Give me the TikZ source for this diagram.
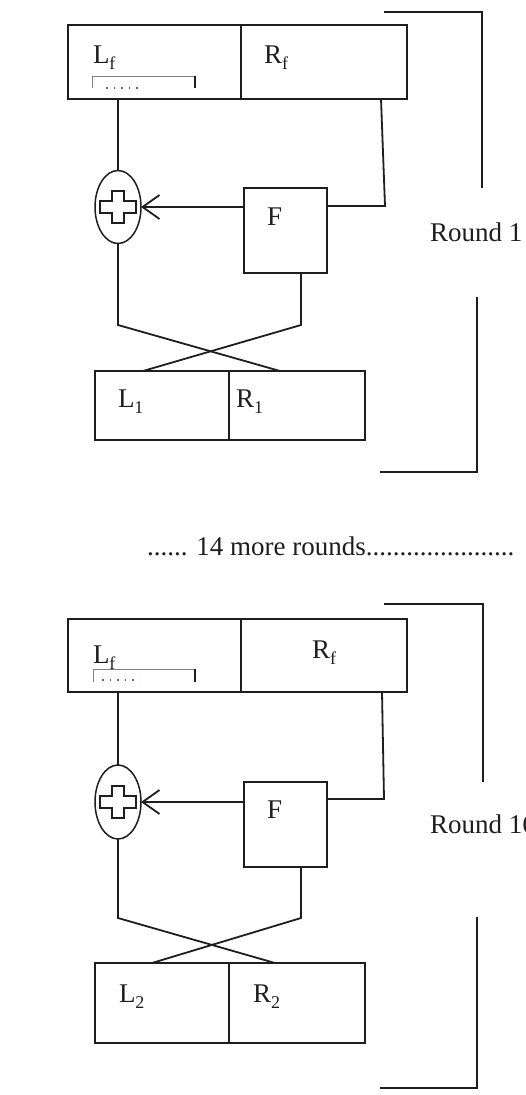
\documentclass[tikz,border=0pt]{standalone}
\usepackage{fontspec}
\setmainfont{Liberation Serif}
\usetikzlibrary{shapes.geometric,arrows.meta,calc}
\definecolor{ink}{HTML}{1E1E1E}
\newcommand\lowsub[1]{\raisebox{-6pt}{\fontsize{18}{18}\selectfont #1}}
\begin{document}
\begin{tikzpicture}[x=1pt,y=-1pt,
  line/.style={line width=1.8pt, draw=ink},
  halfbox/.style={draw=ink, line width=1.8pt, rectangle, inner sep=0pt, outer sep=0pt, anchor=north west},
  lbl/.style={inner sep=0pt, outer sep=0pt, anchor=base west, font=\fontsize{27}{27}\selectfont, text=ink},
  xorell/.style={ellipse, draw=ink, line width=1.5pt, minimum width=46pt, minimum height=73pt, inner sep=0pt, outer sep=0pt},
  thinmark/.style={draw=gray, line width=0.9pt},
  dotmark/.style={draw=gray!80!black, line width=1.6pt, dash pattern=on 1.6pt off 6pt},
  arr/.style={line, -{Straight Barb[length=17pt,width=24pt]}},
  plus/.pic={\draw[ink, line width=1.4pt] (-6,-16) -- (6,-16) -- (6,-6) -- (18,-6) -- (18,6) -- (6,6) -- (6,16) -- (-6,16) -- (-6,6) -- (-18,6) -- (-18,-6) -- (-6,-6) -- cycle;}
]
\fill[white] (0,0) rectangle (525,1095);
\useasboundingbox (0,0) rectangle (525,1095);

% ---------------- Round 1 ----------------
\node[halfbox, minimum width=173pt, minimum height=74pt] (Lf1) at (68,25) {};
\node[halfbox, minimum width=166pt, minimum height=74pt] (Rf1) at (241,25) {};
\node[lbl] (tLf1) at (93,63) {L\lowsub{f}};
\node[lbl] (tRf1) at (264,63) {R\lowsub{f}};
\draw[thinmark] (92,88) -- (92,76) -- (195,76);
\draw[line, line width=1.1pt] (195,76) -- (195,88);
\draw[dotmark] (106,88) -- (140,88);

\node[xorell] (X1) at (118,207) {};
\pic at (X1.center) {plus};
\node[halfbox, minimum width=83pt, minimum height=85pt] (F1) at (244,188) {};
\node[lbl] (tF1) at (267,225) {F};

\draw[line] (X1.north |- Lf1.south) -- (X1.north);
\coordinate (r1) at (385,206);
\draw[line] ($(Rf1.south east)+(-26,0)$) -- (r1) -- (F1.east |- r1);
\draw[arr] (F1.west |- X1.east) -- (X1.east);

\node[halfbox, minimum width=134pt, minimum height=69pt] (L1) at (95,371) {};
\node[halfbox, minimum width=136pt, minimum height=69pt] (R1) at (229,371) {};
\coordinate (a1) at (118,325);
\coordinate (b1) at (301,325);
\draw[line] (X1.south) -- (a1) -- ($(R1.north west)+(51,0)$);
\draw[line] (b1 |- F1.south) -- (b1) -- ($(L1.north west)+(48,0)$);
\node[lbl] (tL1) at (118,407) {L\lowsub{1}};
\node[lbl] (tR1) at (236,407) {R\lowsub{1}};

\coordinate (br1a) at (384,12);
\coordinate (br1b) at (482,12);
\coordinate (br1c) at (482,188);
\draw[line] (br1a) -- (br1b) -- (br1c);
\node[lbl] (rd1) at (430,241) {Round 1};
\coordinate (br1d) at (477,297);
\coordinate (br1e) at (477,472);
\coordinate (br1f) at (380,472);
\draw[line] (br1d) -- (br1e) -- (br1f);

% ---------------- middle ----------------
\node[lbl] (more) at (147,555) {...... 14 more rounds......................};

% ---------------- Round 16 ----------------
\node[halfbox, minimum width=173pt, minimum height=73pt] (Lf2) at (68,619) {};
\node[halfbox, minimum width=166pt, minimum height=73pt] (Rf2) at (241,619) {};
\node[lbl] (tLf2) at (93,663) {L\lowsub{f}};
\node[lbl] (tRf2) at (312,658) {R\lowsub{f}};
\draw[thinmark] (93,682) -- (93,669) -- (195,669);
\draw[line, line width=1.1pt] (195,669) -- (195,682);
\draw[dotmark] (102,680) -- (140,680);

\node[xorell, minimum height=74pt] (X2) at (118,802) {};
\pic at (X2.center) {plus};
\node[halfbox, minimum width=83pt, minimum height=85pt] (F2) at (244,782) {};
\node[lbl] (tF2) at (267,818) {F};

\draw[line] (X2.north |- Lf2.south) -- (X2.north);
\coordinate (r2) at (384,799);
\draw[line] ($(Rf2.south east)+(-25,0)$) -- (r2) -- (F2.east |- r2);
\draw[arr] (F2.west |- X2.east) -- (X2.east);

\node[halfbox, minimum width=134pt, minimum height=80pt] (L2) at (95,963) {};
\node[halfbox, minimum width=136pt, minimum height=80pt] (R2) at (229,963) {};
\coordinate (a2) at (118,918);
\coordinate (b2) at (301,918);
\draw[line] (X2.south) -- (a2) -- ($(R2.north west)+(46,0)$);
\draw[line] (b2 |- F2.south) -- (b2) -- ($(L2.north west)+(57,0)$);
\node[lbl] (tL2) at (119,1002) {L\lowsub{2}};
\node[lbl] (tR2) at (253,1002) {R\lowsub{2}};

\coordinate (br2a) at (384,604);
\coordinate (br2b) at (483,604);
\coordinate (br2c) at (483,782);
\draw[line] (br2a) -- (br2b) -- (br2c);
\node[lbl] (rd2) at (430,833) {Round 16};
\coordinate (br2d) at (477,917);
\coordinate (br2e) at (477,1088);
\coordinate (br2f) at (380,1088);
\draw[line] (br2d) -- (br2e) -- (br2f);
\end{tikzpicture}
\end{document}
